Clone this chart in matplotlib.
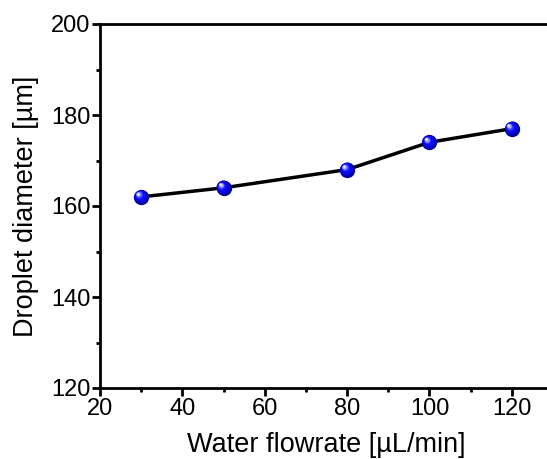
import numpy as np
import matplotlib.pyplot as plt
import matplotlib.transforms as mtransforms

plt.rcParams['font.family'] = ['Liberation Sans', 'DejaVu Sans']

# data
flowrate = [30, 50, 80, 100, 120]
diameter = [162, 164, 168, 174, 177]

fig = plt.figure(figsize=(5.47, 4.59), dpi=100)
ax = fig.add_axes([100 / 547, 1 - 388 / 459, 453 / 547, 364 / 459])

ax.plot(flowrate, diameter, color='black', linewidth=2.5, zorder=2)

# fake 3D sphere markers: stacked circles shifted towards upper left
n = 12
for i in range(n):
    t = i / (n - 1)
    size = 11.0 * (1 - 0.85 * t)
    if t < 0.5:
        g = t / 0.5
        col = (0.05 * g, 0.05 * g, 0.6 + 0.4 * g)
    else:
        g = (t - 0.5) / 0.5
        col = (0.95 * g ** 1.3, 0.95 * g ** 1.3, 1.0)
    off = mtransforms.offset_copy(ax.transData, fig=fig,
                                  x=-2.4 * t, y=2.4 * t, units='points')
    ax.plot(flowrate, diameter, linestyle='none', marker='o',
            markersize=size, color=col, markeredgewidth=0,
            transform=off, zorder=3 + i)

ax.set_xlim(20, 130)
ax.set_ylim(120, 200)
ax.set_xticks([20, 40, 60, 80, 100, 120])
ax.set_xticks([30, 50, 70, 90, 110], minor=True)
ax.set_yticks([120, 140, 160, 180, 200])
ax.set_yticks([130, 150, 170, 190], minor=True)

for s in ax.spines.values():
    s.set_linewidth(2)
ax.spines['right'].set_visible(False)

ax.tick_params(which='major', direction='out', length=6, width=2,
               labelsize=17, pad=1)
ax.tick_params(which='minor', direction='out', length=3, width=2)

ax.set_xlabel('Water flowrate [µL/min]', fontsize=19.5)
ax.set_ylabel('Droplet diameter [µm]', fontsize=19.5)
ax.xaxis.set_label_coords(0.5, -0.121)
ax.yaxis.set_label_coords(-0.135, 0.5)

fig.savefig('out.png', dpi=100)
